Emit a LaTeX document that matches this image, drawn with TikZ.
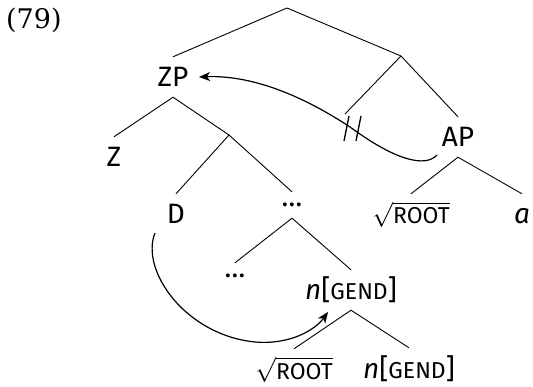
\documentclass[tikz,border=0pt]{standalone}
\usepackage{fontspec}
\setmainfont{Fira Sans}
\newfontfamily\numfont{DejaVu Serif}
\usetikzlibrary{arrows.meta}
\newcommand{\smc}[1]{{\fontsize{23}{27}\selectfont #1}}
\newcommand{\rt}{$\sqrt{\mbox{\smc{ROOT}}}$}
\begin{document}
\begin{tikzpicture}[x=1pt,y=-1pt,
  every node/.style={font=\fontsize{28}{34}\selectfont},
  lab/.style={inner xsep=2pt,inner ysep=10pt,text height=20pt,text depth=0pt},
  dots/.style={inner xsep=2pt,inner ysep=11pt,text height=4pt,text depth=0pt},
  edge/.style={line width=0.9pt},
  mv/.style={line width=1.2pt,-{Stealth[length=11pt,width=9pt,inset=3pt]}}]
\useasboundingbox (0,0) rectangle (533,387);
\node[anchor=north west,inner sep=0,font=\numfont\fontsize{27}{32}\selectfont] (ex) at (6,8) {(79)};
% tree nodes
\coordinate (top) at (287,8);
\node[lab] (zp) at (173,77) {ZP};
\coordinate (r1) at (401,56);
\node[lab] (ap) at (458,137) {AP};
\node[lab] (z) at (114,157) {Z};
\coordinate (r2) at (229,135);
\node[lab] (d) at (176,214) {D};
\node[dots] (e1) at (292,205) {…};
\node[lab] (root1) at (411,214) {\rt};
\node[lab] (a) at (522,214) {\itshape a};
\node[dots] (e2) at (235,276) {…};
\node[lab] (ng) at (351,290) {\itshape n\upshape[\smc{GEND}]};
\node[lab] (root2) at (294,369) {\rt};
\node[lab] (ng2) at (409,368) {\itshape n\upshape[\smc{GEND}]};
% edges
\draw[edge] (top) -- (zp.north);
\draw[edge] (top) -- (r1);
\draw[edge] (r1) -- (345,114) coordinate (c1);
\draw[edge] (r1) -- (ap.north);
\draw[edge] (zp.south) -- (z.north);
\draw[edge] (zp.south) -- (r2);
\draw[edge] (r2) -- (d.north);
\draw[edge] (r2) -- (e1.north);
\draw[edge] (ap.south) -- (root1.north);
\draw[edge] (ap.south) -- (a.north);
\draw[edge] (e1.south) -- (e2.north);
\draw[edge] (e1.south) -- (ng.north);
\draw[edge] (ng.south) -- (root2.north);
\draw[edge] (ng.south) -- (ng2.north);
% movement arrows
\coordinate (s1) at (437,155);
\coordinate (t1) at (199,77);
\draw[mv] (s1) .. controls (425,168) and (395,160) .. (350,127)
  .. controls (300,94) and (250,75) .. (t1);
\draw[line width=1.3pt] (349,116) -- (344,141);
\draw[line width=1.3pt] (361,116) -- (356,141);
\coordinate (s2) at (155,233);
\coordinate (t2) at (328,312);
\draw[mv] (s2) .. controls (140,270) and (185,335) .. (255,342)
  .. controls (290,345) and (315,330) .. (t2);
\end{tikzpicture}
\end{document}
